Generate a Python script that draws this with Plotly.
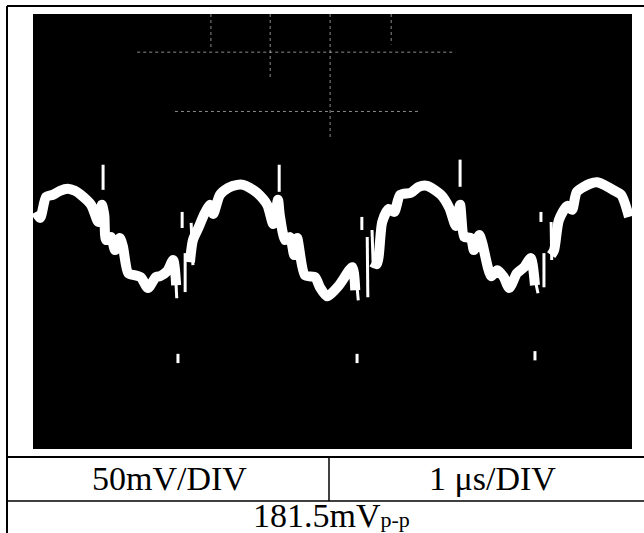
import plotly.graph_objects as go

# main trace: time in us (1 us/DIV), voltage in mV (50 mV/DIV)
t_trace = [0.05, 0.12, 0.22, 0.33, 0.45, 0.58, 0.70, 0.80, 0.97, 1.09, 1.15, 1.19, 1.22, 1.30, 1.37, 1.45,
           1.50, 1.59, 1.70, 1.80, 1.92, 2.05, 2.12, 2.24, 2.34, 2.39, None,
           2.62, 2.67, 2.76, 2.87, 2.96, 3.01, 3.12, 3.26, 3.41, 3.51, 3.62, 3.74, 3.91, 4.01, 4.09, 4.12,
           4.21, 4.29, 4.36, 4.41, 4.54, 4.71, 4.79, 4.91, 5.11, 5.33, 5.38, None,
           5.66, 5.74, 5.83, 5.94, 6.03, 6.13, 6.31, 6.44, 6.58, 6.81, 6.95, 7.06, 7.13, 7.20, 7.31, 7.36,
           7.45, 7.50, 7.65, 7.75, 7.86, 7.95, 8.08, 8.20, 8.31, 8.38, None,
           8.65, 8.70, 8.78, 8.92, 9.00, 9.08, 9.30, 9.42, 9.53, 9.68, 9.82, 9.95]
v_trace = [18.0, 12.5, 31.9, 33.7, 37.4, 39.3, 37.4, 33.7, 24.5, 8.8, 24.5, 15.2, -7.9, -5.1, -17.1, -6.0,
           -13.4, -38.3, -40.2, -42.0, -52.0, -42.0, -41.1, -36.5, -26.3, -49.4, None,
           -28.2, -7.9, 3.2, 17.1, 24.5, 16.2, 33.7, 40.2, 42.9, 42.9, 40.2, 35.6, 24.5, 6.9, 29.1, 15.2,
           -7.9, -5.1, -21.7, -6.0, -40.2, -42.0, -51.3, -59.6, -49.4, -32.8, -54.1, None,
           -28.2, -30.0, 8.8, 20.8, 18.0, 33.7, 35.6, 41.1, 42.0, 33.7, 21.7, 5.1, 24.5, -5.1, -6.0, -17.1,
           -3.2, -10.6, -41.1, -35.6, -42.0, -52.0, -38.3, -32.8, -24.5, -49.4, None,
           -21.7, -17.1, 10.6, 23.6, 19.9, 36.5, 43.9, 45.3, 42.9, 38.3, 33.7, 13.4]

# switching spikes and ringing (thin vertical strokes)
t_spike = [1.17, 1.17, None, 2.37, 2.40, None, 2.54, 2.54, None, 2.49, 2.49, None, 2.64, 2.67, None,
           4.11, 4.11, None, 5.38, 5.43, None, 5.49, 5.49, None, 5.58, 5.59, None, 5.66, 5.68, None,
           7.13, 7.13, None, 8.31, 8.43, None, 8.48, 8.48, None, 8.53, 8.53, None, 8.65, 8.66, None,
           2.42, 2.42, None, 5.41, 5.41, None, 8.38, 8.38]
v_spike = [61.4, 38.3, None, -29.1, -61.4, None, -19.9, -55.7, None, 18.0, 3.2, None, 7.9, -30.9, None,
           61.4, 36.5, None, -32.8, -63.3, None, 13.4, 1.4, None, -5.1, -60.5, None, 1.4, -32.8, None,
           66.1, 41.1, None, -24.5, -56.8, None, 18.0, 8.8, None, -19.9, -51.3, None, 8.8, -26.3, None,
           -112.5, -121.0, None, -112.5, -121.0, None, -110.0, -118.5]

# faint graticule remnants
t_grid = [1.74, 7.05, None, 2.37, 6.46, None, 2.97, 2.97, None, 3.96, 3.96, None, 4.96, 4.96, None, 5.98, 5.98]
v_grid = [164.9, 164.9, None, 110.4, 110.4, None, 200, 167, None, 200, 140, None, 200, 85, None, 200, 172]

volt_div = "50mV/DIV"
time_div = "1 μs/DIV"
vpp = "181.5mV<span style='font-size:22px'>p-p</span>"

W, H = 644, 533

fig = go.Figure()

fig.add_trace(go.Scatter(x=t_grid, y=v_grid, mode='lines', hoverinfo='skip',
                         line=dict(color='rgba(255,255,255,0.55)', width=1, dash='dot')))
fig.add_trace(go.Scatter(x=t_spike, y=v_spike, mode='lines', hoverinfo='skip',
                         line=dict(color='white', width=3)))
fig.add_trace(go.Scatter(x=t_trace, y=v_trace, mode='lines', hoverinfo='skip',
                         line=dict(color='white', width=10, shape='spline', smoothing=0.7)))


def px(x):
    return x / W


def py(y):
    return 1 - y / H


line_w = dict(color='black', width=2)
shapes = [
    dict(type='line', xref='paper', yref='paper', x0=px(7), x1=1, y0=py(6), y1=py(6), line=line_w),
    dict(type='line', xref='paper', yref='paper', x0=px(7), x1=px(7), y0=py(6), y1=0, line=line_w),
    dict(type='line', xref='paper', yref='paper', x0=px(7), x1=1, y0=py(457), y1=py(457), line=line_w),
    dict(type='line', xref='paper', yref='paper', x0=px(7), x1=1, y0=py(501), y1=py(501),
         line=dict(color='black', width=1.5)),
    dict(type='line', xref='paper', yref='paper', x0=px(329), x1=px(329), y0=py(457), y1=py(501),
         line=dict(color='black', width=1.5)),
]

font = dict(family='Liberation Serif, Times New Roman, serif', size=34, color='black')
annotations = [
    dict(text=volt_div, x=px(169), y=py(478), xref='paper', yref='paper', showarrow=False,
         xanchor='center', yanchor='middle', font=font),
    dict(text=time_div, x=px(492), y=py(478), xref='paper', yref='paper', showarrow=False,
         xanchor='center', yanchor='middle', font=font),
    dict(text=vpp, x=px(331), y=py(515), xref='paper', yref='paper', showarrow=False,
         xanchor='center', yanchor='middle', font=font),
]

fig.update_layout(
    width=W,
    height=H,
    autosize=False,
    margin=dict(l=0, r=0, t=0, b=0),
    paper_bgcolor='white',
    plot_bgcolor='black',
    showlegend=False,
    dragmode=False,
    xaxis=dict(domain=[px(33), px(632)], range=[0, 10], visible=False, fixedrange=True),
    yaxis=dict(domain=[py(449), py(14)], range=[-200, 200], visible=False, fixedrange=True),
    shapes=shapes,
    annotations=annotations,
)

# the page body has a default 8px margin; drop it so the figure fills the window
fig.write_html("out.html", config={'displayModeBar': False},
               post_script="document.body.style.margin='0';")
